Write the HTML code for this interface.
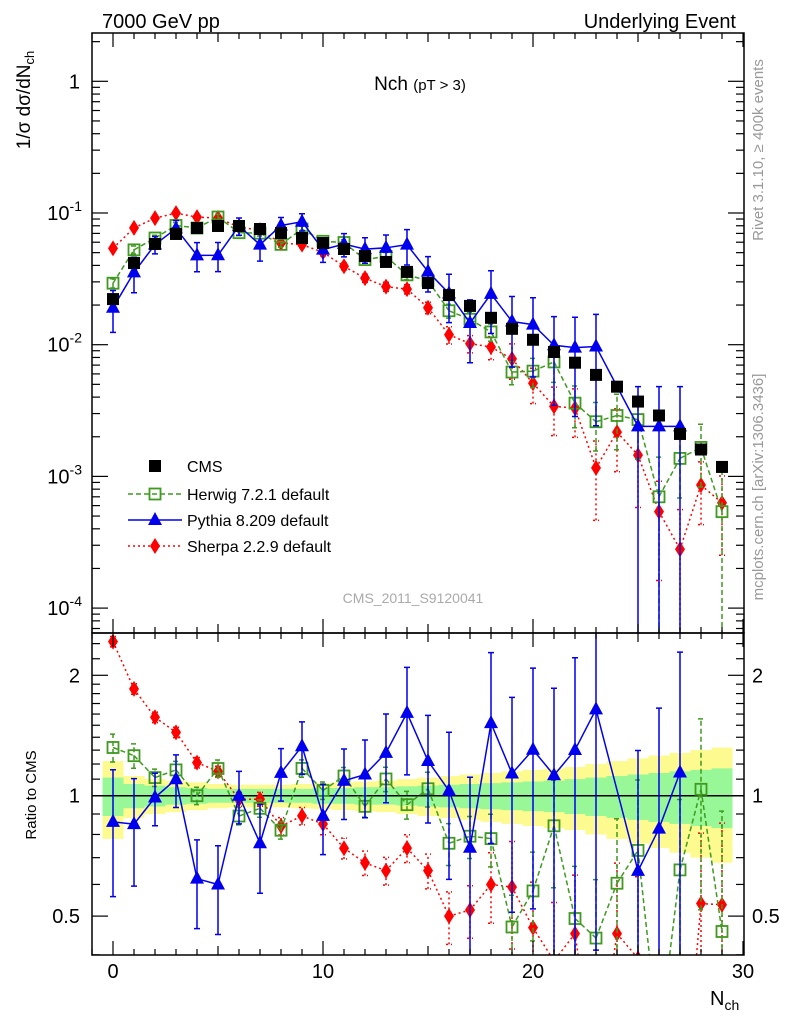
<!DOCTYPE html>
<html><head><meta charset="utf-8"><style>
html,body{margin:0;padding:0;background:#fff;width:786px;height:1024px;overflow:hidden;}
svg{display:block;font-family:"Liberation Sans",sans-serif;overflow:hidden;}
</style></head><body>
<svg id="chart" width="786" height="1024" viewBox="0 0 786 1024">
<defs>
<clipPath id="cm"><rect x="92" y="33" width="652" height="600"/></clipPath>
<clipPath id="cr"><rect x="92" y="633" width="652" height="322"/></clipPath>
</defs>
<rect width="786" height="1024" fill="#fff"/>
<text x="102" y="28" font-size="20">7000 GeV pp</text>
<text x="736" y="28" font-size="20" text-anchor="end">Underlying Event</text>
<text x="420" y="90" font-size="19" text-anchor="middle">Nch <tspan font-size="15">(pT &gt;  3)</tspan></text>
<text transform="translate(763,150) rotate(-90)" font-size="15" fill="#999" text-anchor="middle">Rivet 3.1.10, ≥ 400k events</text>
<text transform="translate(763,487) rotate(-90)" font-size="15" fill="#999" text-anchor="middle">mcplots.cern.ch [arXiv:1306.3436]</text>
<text transform="translate(30,100) rotate(-90)" font-size="19" text-anchor="middle">1/σ dσ/dN<tspan font-size="13" dy="4">ch</tspan></text>
<text transform="translate(36,795) rotate(-90)" font-size="15" text-anchor="middle">Ratio to CMS</text>
<text x="710" y="1005" font-size="20">N<tspan font-size="14" dy="5">ch</tspan></text>
<text x="413" y="603" font-size="14" fill="#aaa" text-anchor="middle">CMS_2011_S9120041</text>
<g id="bands" clip-path="url(#cr)"></g>
<g id="main" clip-path="url(#cm)"></g>
<g id="ratio" clip-path="url(#cr)"></g>
<g id="axes"></g>
<g id="legend"></g>
</svg>
<script>
const nch = [0,1,2,3,4,5,6,7,8,9,10,11,12,13,14,15,16,17,18,19,20,21,22,23,24,25,26,27,28,29];
const cmsVals = [0.0222,0.0417,0.0582,0.0693,0.0769,0.0797,0.0797,0.0756,0.0705,0.0646,0.0592,0.0533,0.0471,0.0425,0.0357,0.0294,0.0238,0.0197,0.0160,0.0132,0.0109,0.0088,0.0073,0.0059,0.0048,0.0037,0.0029,0.0021,0.0016,0.00118];
const herwigVals = [0.0293,0.0525,0.0646,0.0804,0.0769,0.0932,0.0709,0.0703,0.0578,0.0756,0.0610,0.0597,0.0443,0.0468,0.0339,0.0306,0.0181,0.0156,0.0125,0.0062,0.0063,0.0074,0.0036,0.0026,0.0029,0.0027,0.0007,0.00137,0.00166,0.00054];
const pythiaVals = [0.0191,0.0354,0.0576,0.0762,0.0477,0.0478,0.0797,0.0575,0.0804,0.0859,0.0527,0.0581,0.0532,0.0544,0.0575,0.0359,0.0245,0.0146,0.0243,0.0150,0.0142,0.0099,0.0095,0.0097,null,0.0024,0.0024,0.0024,null,null];
const sherpaVals = [0.0539,0.0771,0.0914,0.0998,0.0930,0.0917,0.0781,0.0741,0.0592,0.0575,0.0503,0.0394,0.0320,0.0276,0.0264,0.0191,0.0119,0.0102,0.0096,0.0078,0.0051,0.0034,0.0033,0.00116,0.00217,0.00145,0.00054,0.00028,0.00086,0.00063];
const herwigErr = [0.08,0.07,0.05,0.05,0.05,0.05,0.05,0.05,0.05,0.05,0.05,0.05,0.06,0.07,0.08,0.1,0.12,0.12,0.15,0.2,0.25,0.3,0.35,0.4,0.45,0.5,1,0.5,0.5,1];
const pythiaErr = [0.35,0.3,0.15,0.15,0.25,0.25,0.15,0.25,0.15,0.15,0.2,0.2,0.22,0.25,0.3,0.3,0.4,0.5,0.5,0.55,0.6,0.65,0.7,0.75,0,1,1,1,0,0];
const sherpaErr = [0.03,0.03,0.03,0.03,0.03,0.03,0.04,0.04,0.05,0.05,0.06,0.06,0.07,0.08,0.08,0.1,0.15,0.15,0.2,0.3,0.3,0.4,0.4,0.6,0.5,0.6,0.7,1,0.5,0.6];
const bandYellow = [0.22,0.12,0.1,0.09,0.08,0.07,0.065,0.065,0.065,0.07,0.075,0.08,0.085,0.09,0.1,0.11,0.12,0.13,0.14,0.15,0.16,0.17,0.18,0.2,0.22,0.24,0.26,0.28,0.3,0.32];
const bandGreen = [0.11,0.07,0.06,0.05,0.045,0.04,0.04,0.04,0.04,0.04,0.045,0.045,0.05,0.05,0.055,0.06,0.065,0.07,0.075,0.08,0.085,0.09,0.1,0.11,0.12,0.13,0.14,0.15,0.16,0.17];
const xTicks = [0,10,20,30];
const ratioTickLabels = [0.5,1,2];

const NS='http://www.w3.org/2000/svg';
const xS = n => 113 + 21*n;
const yM = v => 213 - (Math.log10(v)+1)*131.7;
const yR = r => 795.7 - Math.log10(r)*400;
const clampY = (y,lo,hi) => Math.max(lo, Math.min(hi, y));
function mk(tag, attrs, parent){const e=document.createElementNS(NS,tag);for(const k in attrs)e.setAttribute(k,attrs[k]);parent.appendChild(e);return e;}
const gMain=document.getElementById('main'), gRatio=document.getElementById('ratio'), gBands=document.getElementById('bands'), gAxes=document.getElementById('axes'), gLeg=document.getElementById('legend');

function clipPoly(pts, ymin, ymax){
  let d='';
  for(let i=0;i<pts.length-1;i++){
    let [x0,y0]=pts[i],[x1,y1]=pts[i+1];
    let t0=0,t1=1;const dy=y1-y0;
    if(dy===0){ if(y0<ymin||y0>ymax) continue; }
    else{
      let ta=(ymin-y0)/dy, tb=(ymax-y0)/dy;
      if(ta>tb){const t=ta;ta=tb;tb=t;}
      t0=Math.max(t0,ta);t1=Math.min(t1,tb);
      if(t0>t1) continue;
    }
    const ax=x0+(x1-x0)*t0, ay=y0+dy*t0, bx=x0+(x1-x0)*t1, by=y0+dy*t1;
    d+='M'+ax.toFixed(2)+','+ay.toFixed(2)+'L'+bx.toFixed(2)+','+by.toFixed(2);
  }
  return d||'M0,0';
}

function bandPath(arr){let up='',dn='';arr.forEach((w,i)=>{const x0=xS(i-0.5),x1=xS(i+0.5);up+=(i?'L':'M')+x0+','+yR(1+w)+'L'+x1+','+yR(1+w);});for(let i=arr.length-1;i>=0;i--){const w=arr[i];dn+='L'+xS(i+0.5)+','+clampY(yR(1-w),633,955)+'L'+xS(i-0.5)+','+clampY(yR(1-w),633,955);}return up+dn+'Z';}
const yb=mk('path',{d:bandPath(bandYellow),fill:'#fdfa8f'},gBands);


const gb=mk('path',{d:bandPath(bandGreen),fill:'#98f898'},gBands);


const rl=mk('line',{x1:92,x2:744,y1:yR(1),y2:yR(1),stroke:'#000','stroke-width':1.5},gBands);



function marker(kind,x,y,col,parent,name){
  let e;
  if(kind==='sq') e=mk('rect',{x:x-6,y:y-6,width:12,height:12,fill:'#000'},parent);
  else if(kind==='osq') e=mk('rect',{x:x-5.5,y:y-5.5,width:11,height:11,fill:'none',stroke:col,'stroke-width':1.8},parent);
  else if(kind==='tri') e=mk('path',{d:`M${x},${y-8}L${x+7},${y+5}L${x-7},${y+5}Z`,fill:col},parent);
  else e=mk('path',{d:`M${x},${y-8}L${x+5},${y}L${x},${y+8}L${x-5},${y}Z`,fill:col},parent);
  
  
}
function series(vals,errs,col,dash,kind,key){
  [['main',gMain,(v)=>v,33,633],['ratio',gRatio,(v,i)=>v/cmsVals[i],633,955]].forEach(([pn,g,tf,ymin,ymax])=>{
    const f=pn==='main'?yM:yR;
    const pts=[];
    vals.forEach((v,i)=>{ if(v==null)return; pts.push([xS(i),f(tf(v,i))]); });
    const ln=mk('path',{d:clipPoly(pts,ymin,ymax),fill:'none',stroke:col,'stroke-width':1.5,'stroke-dasharray':dash},g);
    
    
    vals.forEach((v,i)=>{ if(v==null)return;
      const val=tf(v,i), e=errs[i], lo=Math.max(val*(1-e),1e-9), hi=val*(1+e);
      const yc=f(val);
      if(yc<ymin-10||yc>ymax+10) return;
      const ylo=clampY(f(lo),ymin,ymax+2), yhi=clampY(f(hi),ymin-2,ymax);
      const eb=mk('path',{d:`M${xS(i)},${ylo}L${xS(i)},${yhi}M${xS(i)-3},${ylo}h6M${xS(i)-3},${yhi}h6`,stroke:col,'stroke-width':1.5,fill:'none','stroke-dasharray':dash},g);
      
      
      marker(kind,xS(i),yc,col,g,key+'-'+pn+'-point');
    });
  });
}
series(sherpaVals,sherpaErr,'#ff0000','2,3','dia','sherpa');
series(herwigVals,herwigErr,'#3f9a1f','5,3','osq','herwig');
series(pythiaVals,pythiaErr,'#0000ee','none','tri','pythia');
cmsVals.forEach((v,i)=>marker('sq',xS(i),yM(v),'#000',gMain,'cms-point'));

[[33,600],[633,322]].forEach(([y,h],k)=>{const r=mk('rect',{x:92,y:y,width:652,height:h,fill:'none',stroke:'#000','stroke-width':1.5},gAxes);

});
for(let n=-1;n<=30;n++){const x=xS(n);const L=n%10===0?14:(n%5===0?9:6);
  [[633,-1],[955,-1],[33,1],[633,1]].forEach(([y,s])=>mk('line',{x1:x,x2:x,y1:y,y2:y+s*L,stroke:'#000','stroke-width':1.2},gAxes));}
xTicks.forEach(t=>{const tx=mk('text',{x:xS(t),y:978,'font-size':20,'text-anchor':'middle'},gAxes);tx.textContent=t;

});
for(let d=-5;d<=0;d++){for(let m=1;m<10;m++){const v=m*Math.pow(10,d);const y=yM(v);if(y<33||y>633)continue;const L=m===1?16:8;
  mk('line',{x1:92,x2:92+L,y1:y,y2:y,stroke:'#000','stroke-width':1.2},gAxes);mk('line',{x1:744,x2:744-L,y1:y,y2:y,stroke:'#000','stroke-width':1.2},gAxes);}
  const y=yM(Math.pow(10,d));if(y<33||y>633)continue;
  const t=mk('text',{x:d===0?80:82,y:y+7,'font-size':20,'text-anchor':'end'},gAxes);
  
  
  if(d===0)t.textContent='1';else t.innerHTML='10<tspan font-size="14" dy="-9">'+d+'</tspan>';}
const rt=[];for(let r=0.4;r<=2.001;r+=0.1)rt.push(+r.toFixed(1));rt.push(2.2,2.4);
rt.forEach(r=>{const y=yR(r);if(y<633||y>955)return;const L=(r===0.5||r===1||r===2)?16:8;
  mk('line',{x1:92,x2:92+L,y1:y,y2:y,stroke:'#000','stroke-width':1.2},gAxes);mk('line',{x1:744,x2:744-L,y1:y,y2:y,stroke:'#000','stroke-width':1.2},gAxes);});
ratioTickLabels.forEach(r=>{[[80,'end'],[752,'start']].forEach(([x,a])=>{const t=mk('text',{x:x,y:yR(r)+7,'font-size':20,'text-anchor':a},gAxes);t.textContent=r;

});});

const legItems=[['CMS','#000','none','sq',466],['Herwig 7.2.1 default','#3f9a1f','5,3','osq',494],['Pythia 8.209 default','#0000ee','none','tri',520],['Sherpa 2.2.9 default','#ff0000','2,3','dia',546]];
legItems.forEach(([lab,col,dash,kind,y])=>{
  const g=mk('g',{},gLeg);
  
  
  if(kind!=='sq')mk('line',{x1:128,x2:182,y1:y,y2:y,stroke:col,'stroke-width':1.5,'stroke-dasharray':dash},g);
  marker(kind,155,y,col,g,'legend-marker');
  const t=mk('text',{x:187,y:y+6,'font-size':16},g);t.textContent=lab;
});
</script>
</body></html>
